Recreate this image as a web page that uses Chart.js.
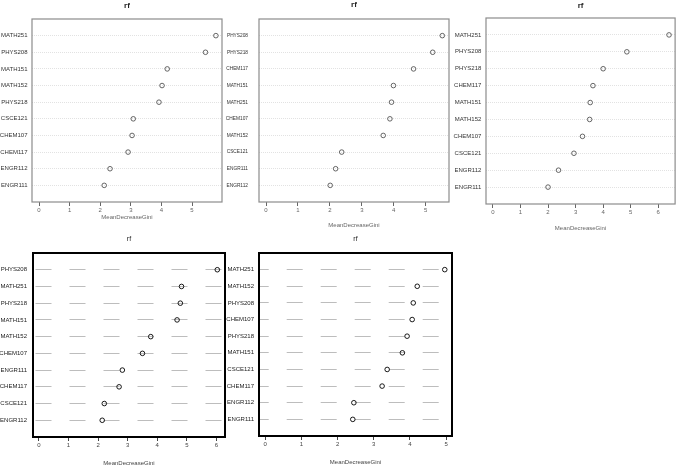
<!DOCTYPE html>
<html>
<head>
<meta charset="utf-8">
<script src="https://cdn.jsdelivr.net/npm/chart.js@4.4.1/dist/chart.umd.min.js"></script>
<style>
  html, body { margin: 0; padding: 0; background: #fff; }
  #wrap { position: relative; width: 680px; height: 470px; overflow: hidden; background: #fff; }
  canvas { position: absolute; }
</style>
</head>
<body>
<div id="wrap">
  <canvas id="c1"></canvas>
  <canvas id="c2"></canvas>
  <canvas id="c3"></canvas>
  <canvas id="c4"></canvas>
  <canvas id="c5"></canvas>
</div>
<script>
// rows listed top to bottom
const labels1 = ["MATH251", "PHYS208", "MATH151", "MATH152", "PHYS218", "CSCE121", "CHEM107", "CHEM117", "ENGR112", "ENGR111"];
const values1 = [5.78, 5.44, 4.19, 4.02, 3.92, 3.08, 3.04, 2.91, 2.32, 2.13];

const labels2 = ["PHYS208", "PHYS218", "CHEM117", "MATH151", "MATH251", "CHEM107", "MATH152", "CSCE121", "ENGR111", "ENGR112"];
const values2 = [5.52, 5.22, 4.62, 3.99, 3.93, 3.88, 3.67, 2.37, 2.18, 2.01];

const labels3 = ["MATH251", "PHYS208", "PHYS218", "CHEM117", "MATH151", "MATH152", "CHEM107", "CSCE121", "ENGR112", "ENGR111"];
const values3 = [6.39, 4.86, 4.00, 3.63, 3.53, 3.51, 3.25, 2.94, 2.38, 2.00];

const labels4 = ["PHYS208", "MATH251", "PHYS218", "MATH151", "MATH152", "CHEM107", "ENGR111", "CHEM117", "CSCE121", "ENGR112"];
const values4 = [6.03, 4.82, 4.78, 4.67, 3.78, 3.50, 2.82, 2.71, 2.21, 2.14];

const labels5 = ["MATH251", "MATH152", "PHYS208", "CHEM107", "PHYS218", "MATH151", "CSCE121", "CHEM117", "ENGR112", "ENGR111"];
const values5 = [4.96, 4.20, 4.09, 4.06, 3.92, 3.79, 3.37, 3.23, 2.45, 2.42];

const ticks5 = [0, 1, 2, 3, 4, 5];
const ticks6 = [0, 1, 2, 3, 4, 5, 6];

const titleText = "rf";
const xTitleText = "MeanDecreaseGini";

// panel frames in page pixels: canvas rect + plot box
const frames = [
  { id: "c1", left: 0,   top: 0,   w: 230, h: 232, l: 32,  t: 19,  r: 222, b: 202, titleY: 6,   xTitleY: 217,   labelPad: 4.5, labelSize: 6,   xMin: -0.23, xMax: 5.98 },
  { id: "c2", left: 224, top: 0,   w: 230, h: 232, l: 259, t: 19,  r: 449, b: 202, titleY: 5,   xTitleY: 225.5, labelPad: 11,  labelSize: 4.8, xMin: -0.22, xMax: 5.73 },
  { id: "c3", left: 452, top: 0,   w: 228, h: 234, l: 486, t: 18,  r: 677, b: 204, titleY: 6,   xTitleY: 228.5, labelPad: 4.7, labelSize: 6,   xMin: -0.25, xMax: 6.61 },
  { id: "c4", left: 0,   top: 234, w: 232, h: 236, l: 33,  t: 253, r: 225, b: 437, titleY: 239, xTitleY: 463,   labelPad: 6,   labelSize: 6,   xMin: -0.20, xMax: 6.29 },
  { id: "c5", left: 226, top: 234, w: 234, h: 236, l: 259, t: 253, r: 452, b: 436, titleY: 239, xTitleY: 462,   labelPad: 5,   labelSize: 6,   xMin: -0.17, xMax: 5.16 },
];

const topStyle = {
  box: "#8c8c8c", boxWidth: 1.2, point: "#555", rowColor: "#e2e2e2", rowDash: [1, 1], dashOffset: 0,
  label: "#333", tick: "#666", titleFont: "bold 8px 'Liberation Sans', Arial, sans-serif", titleColor: "#222",
};
const bottomStyle = {
  box: "#000", boxWidth: 2, point: "#000", rowColor: "#bdbdbd", rowDash: [16, 18], dashOffset: -2.5,
  label: "#222", tick: "#444", titleFont: "7px 'Liberation Sans', Arial, sans-serif", titleColor: "#222",
};

const boxPlugin = {
  id: "plotBox",
  afterDatasetsDraw(chart, args, o) {
    const a = chart.chartArea;
    const ctx = chart.ctx;
    ctx.save();
    ctx.strokeStyle = o.color;
    ctx.lineWidth = o.width;
    ctx.strokeRect(a.left, a.top, a.right - a.left, a.bottom - a.top);
    ctx.restore();
  },
};

const titlePlugin = {
  id: "rfTitle",
  afterDraw(chart, args, o) {
    const a = chart.chartArea;
    const ctx = chart.ctx;
    ctx.save();
    ctx.font = o.font;
    ctx.fillStyle = o.color;
    ctx.textAlign = "center";
    ctx.textBaseline = "middle";
    ctx.fillText(o.text, (a.left + a.right) / 2, o.y);
    ctx.restore();
  },
};

function makePanel(f, labels, values, xTicks, st) {
  const canvas = document.getElementById(f.id);
  canvas.width = f.w;
  canvas.height = f.h;
  canvas.style.left = f.left + "px";
  canvas.style.top = f.top + "px";
  canvas.style.width = f.w + "px";
  canvas.style.height = f.h + "px";

  const font = "'Liberation Sans', Arial, sans-serif";
  const titlePadBottom = f.top + f.h - f.xTitleY - 3.6;
  const points = values.map((v, i) => ({ x: v, y: i + 1 }));

  return new Chart(canvas.getContext("2d"), {
    type: "scatter",
    data: {
      datasets: [{
        data: points,
        pointStyle: "circle",
        pointRadius: 2.3,
        pointBorderWidth: 0.9,
        pointBorderColor: st.point,
        pointBackgroundColor: "rgba(0,0,0,0)",
        showLine: false,
      }],
    },
    options: {
      responsive: false,
      devicePixelRatio: 1,
      animation: false,
      events: [],
      layout: { padding: { left: 0, top: f.t - f.top, right: f.left + f.w - f.r, bottom: 0 } },
      plugins: {
        legend: { display: false },
        tooltip: { enabled: false },
        plotBox: { color: st.box, width: st.boxWidth },
        rfTitle: { text: titleText, font: st.titleFont, color: st.titleColor, y: f.titleY - f.top },
      },
      scales: {
        x: {
          type: "linear",
          min: f.xMin,
          max: f.xMax,
          afterBuildTicks: s => { s.ticks = xTicks.map(v => ({ value: v })); },
          afterFit: s => { s.height = f.top + f.h - f.b; },
          ticks: { font: { family: font, size: 6 }, color: st.tick, padding: 1, maxRotation: 0, autoSkip: false },
          grid: { drawOnChartArea: false, drawTicks: true, tickLength: 4, color: st.tick, tickColor: st.tick, lineWidth: 1 },
          border: { display: false },
          title: {
            display: true,
            text: xTitleText,
            color: st.tick,
            font: { family: font, size: 6 },
            padding: { top: 0, bottom: titlePadBottom },
          },
        },
        y: {
          type: "linear",
          reverse: true,
          min: 0,
          max: 11,
          afterBuildTicks: s => { s.ticks = labels.map((_, i) => ({ value: i + 1 })); },
          afterFit: s => { s.width = f.l - f.left; },
          ticks: {
            callback: v => labels[v - 1],
            font: { family: font, size: f.labelSize },
            color: st.label,
            padding: f.labelPad,
            autoSkip: false,
          },
          grid: { drawTicks: false, color: st.rowColor, lineWidth: 1 },
          border: { display: false, dash: st.rowDash, dashOffset: st.dashOffset },
        },
      },
    },
    plugins: [boxPlugin, titlePlugin],
  });
}

makePanel(frames[0], labels1, values1, ticks5, topStyle);
makePanel(frames[1], labels2, values2, ticks5, topStyle);
makePanel(frames[2], labels3, values3, ticks6, topStyle);
makePanel(frames[3], labels4, values4, ticks6, bottomStyle);
makePanel(frames[4], labels5, values5, ticks5, Object.assign({}, bottomStyle, { dashOffset: 6.3 }));
</script>
</body>
</html>
